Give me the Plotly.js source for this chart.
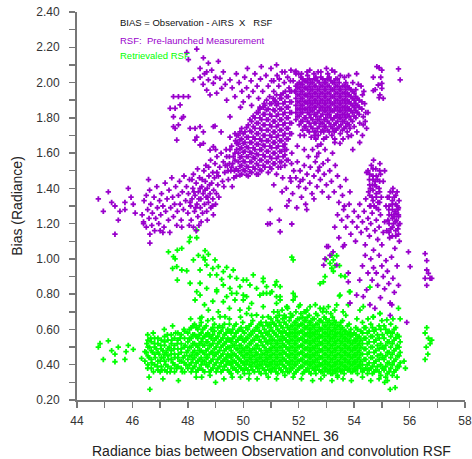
<!DOCTYPE html>
<html><head><meta charset="utf-8">
<script src="https://cdn.plot.ly/plotly-3.0.1.min.js"></script>
<style>html,body{margin:0;padding:0;background:#fff;} #chart{width:472px;height:459px;}</style>
</head><body><div id="chart"></div>
<script>
// ---- Data ----
const xTickVals = [44, 46, 48, 50, 52, 54, 56, 58];
const yTickVals = [0.2, 0.4, 0.6, 0.8, 1.0, 1.2, 1.4, 1.6, 1.8, 2.0, 2.2, 2.4];

// RSF: Pre-launched Measurement (purple) - scattered points [x, y]
const preLaunchedPts = [
 [44.77,1.34],[44.95,1.27],[45.13,1.38],[45.25,1.32],[45.37,1.30],[45.49,1.22],[45.37,1.14],[45.73,1.32],[45.73,1.28],[45.85,1.40],[46.03,1.31],[46.63,1.09],[46.10,1.26],[45.95,1.35],[45.55,1.27],
 [46.35,1.25],[46.40,1.21],[46.42,1.33],[46.50,1.36],[46.50,1.18],[46.55,1.28],[46.60,1.23],[46.62,1.39],[46.66,1.31],[46.70,1.19],[46.72,1.26],[46.78,1.35],[46.80,1.16],[46.84,1.23],[46.88,1.41],[46.90,1.29],[46.95,1.20],[46.98,1.33],[47.02,1.25],[47.05,1.37],[47.10,1.30],[47.14,1.18],[47.18,1.43],[47.20,1.27],[47.25,1.34],[47.30,1.22],[47.32,1.39],[47.38,1.29],[47.42,1.46],[47.45,1.35],[47.48,1.24],[47.52,1.31],[47.56,1.41],[47.60,1.19],[47.62,1.27],[47.66,1.36],[47.70,1.44],[47.72,1.31],[47.76,1.22],[47.80,1.38],[47.84,1.28],[47.86,1.47],[47.00,1.16],[46.58,1.45],[47.35,1.15],
 [46.40,1.20],[46.63,1.14],[47.10,1.15],[47.78,1.18],[48.30,1.16],
 [47.92,1.33],[47.95,1.41],[48.00,1.26],[48.02,1.37],[48.06,1.45],[48.10,1.30],[48.12,1.22],[48.15,1.34],[48.18,1.40],[48.20,1.48],[48.24,1.27],[48.26,1.36],[48.30,1.43],[48.33,1.31],[48.36,1.24],[48.38,1.38],[48.42,1.46],[48.45,1.29],[48.47,1.34],[48.50,1.41],[48.53,1.26],[48.55,1.37],[48.58,1.50],[48.60,1.31],[48.63,1.44],[48.66,1.35],[48.68,1.27],[48.70,1.40],[48.74,1.32],[48.76,1.47],[48.80,1.37],[48.83,1.29],[48.86,1.43],[48.90,1.34],[48.93,1.39],[48.96,1.46],[49.00,1.31],[49.03,1.37],[49.08,1.42],[49.12,1.35],[48.40,1.19],[48.70,1.22],[48.20,1.18],[48.92,1.25],[48.05,1.19],[48.35,1.51],[48.65,1.53],[49.05,1.49],[48.15,1.45],[48.48,1.21],
 [48.08,1.32],[48.22,1.38],[48.40,1.34],[48.52,1.45],[48.62,1.39],[48.78,1.42],[48.88,1.30],[48.28,1.29],[48.44,1.40],[48.72,1.35],
 [48.75,1.52],[48.82,1.56],[48.90,1.49],[48.98,1.54],[49.05,1.58],[49.10,1.47],[49.15,1.52],[49.20,1.60],[49.25,1.44],[49.28,1.55],[49.33,1.49],[49.38,1.62],[49.42,1.53],[49.46,1.45],[49.50,1.58],[49.55,1.50],[49.58,1.64],[49.62,1.54],[49.66,1.46],[49.70,1.60],[49.74,1.51],[49.78,1.66],[49.30,1.41],[49.60,1.41],[49.00,1.62],
 [49.70,1.56],[49.76,1.62],[49.64,1.58],[49.72,1.67],[49.58,1.52],[49.68,1.50],[49.50,1.54],[49.45,1.50],[49.40,1.58],[49.75,1.47],[49.52,1.62],[49.35,1.53],
 [48.56,2.14],[48.02,2.13],[47.96,2.17],[48.32,2.19],[48.74,2.11],[49.10,2.12],[48.44,2.08],[48.68,2.06],[48.86,2.07],[48.20,2.015],[48.44,2.03],[48.74,2.015],[48.92,1.996],[49.16,2.024],[49.22,1.967],[49.04,1.94],[49.40,1.90],[49.52,1.806],[48.68,1.957],[49.28,2.06],[49.52,2.015],[48.55,1.99],[48.80,1.93],[49.35,1.99],[48.60,2.05],[49.00,2.03],
 [47.48,1.92],[47.66,1.92],[47.36,1.854],[47.48,1.806],[47.72,1.873],[47.78,1.797],[47.54,1.74],[47.48,1.75],[48.08,1.74],[48.26,1.74],[48.44,1.75],[48.56,1.72],[48.92,1.75],[48.32,1.69],[48.56,1.655],[49.52,1.69],[49.70,1.71],[49.76,1.655],[48.26,1.674],[48.92,1.636],[47.54,1.854],[47.84,1.806],[47.66,1.76],[47.60,1.674],[48.98,1.753],[48.44,1.646],[48.80,1.617],[49.76,1.70],[47.84,1.92],[48.02,1.92],[49.20,1.72],
 [49.85,2.00],[49.95,1.95],[50.05,2.03],[50.12,1.97],[50.20,1.92],[50.28,2.01],[50.35,1.95],[50.42,2.05],[50.50,1.98],[50.55,1.91],[50.62,2.02],[50.70,1.95],[50.75,1.88],[50.82,2.04],[50.90,1.98],[50.95,1.92],[51.02,2.01],[51.10,1.95],[51.15,1.89],[51.22,2.04],[51.28,1.98],[51.35,1.93],[51.40,2.06],[51.48,2.00],[51.52,1.95],[51.60,2.03],[51.65,1.97],[51.72,2.07],[51.80,2.01],[51.85,1.95],[51.90,2.05],[51.95,1.99],[50.30,1.87],[50.60,1.85],[50.00,1.89],[49.90,1.86],[50.15,2.08],[50.65,2.09],[51.00,2.08],[49.75,2.05],[49.60,1.97],[49.70,1.92],[51.20,2.10],[51.50,2.06],[51.87,2.06],[51.10,2.01],[51.30,2.02],[51.70,2.01],
 [54.40,1.78],[54.50,1.83],[54.35,1.95],[54.45,1.74],[53.90,1.70],[54.10,1.72],[53.60,1.68],[52.90,1.68],[53.30,1.66],[52.00,2.05],[52.70,2.06],[53.30,2.06],[53.80,2.04],[51.90,2.065],[54.09,2.05],[54.30,1.70],[54.20,1.66],[53.95,1.62],[54.33,1.806],[53.79,1.693],[53.49,1.655],[53.85,1.74],[52.40,2.07],[53.00,2.08],
 [52.10,2.05],[52.30,2.06],[52.55,2.05],[52.80,2.06],[53.05,2.05],[53.20,2.07],[53.50,2.04],[53.65,2.03],[53.95,2.00],[54.15,1.99],[54.30,1.93],[54.38,1.88],[54.42,1.83],[54.33,1.76],[54.25,1.98],
 [52.20,1.70],[52.45,1.69],[52.70,1.70],[53.00,1.69],[53.20,1.70],[53.50,1.71],[53.75,1.72],[54.00,1.75],[54.20,1.77],
 [51.35,1.52],[51.42,1.46],[51.55,1.40],[51.72,1.44],[51.78,1.37],[51.82,1.50],[51.90,1.46],[51.95,1.55],[52.00,1.41],[52.05,1.50],[52.10,1.35],[52.15,1.45],[52.20,1.53],[52.25,1.40],[52.30,1.48],[52.35,1.58],[52.40,1.43],[52.42,1.52],[52.48,1.37],[52.50,1.62],[52.55,1.47],[52.60,1.55],[52.62,1.68],[52.66,1.41],[52.70,1.50],[52.72,1.60],[52.78,1.45],[52.80,1.65],[52.85,1.38],[52.88,1.54],[52.92,1.48],[52.95,1.62],[53.00,1.42],[53.05,1.56],[53.08,1.35],[53.12,1.50],[53.18,1.44],[53.22,1.60],[53.28,1.38],[53.32,1.53],[53.40,1.47],[53.45,1.32],[53.50,1.41],[53.58,1.36],[53.65,1.30],[52.20,1.62],[51.95,1.64],[51.75,1.60],[51.50,1.62],[52.05,1.70],[52.55,1.34],[52.25,1.31],[53.70,1.45],[53.85,1.38],[53.30,1.68],[52.90,1.72],[51.20,1.48],[51.10,1.42],[51.40,1.38],[51.65,1.33],[50.97,1.28],[51.57,1.30],[51.93,1.29],[52.29,1.28],[51.69,1.46],[52.05,1.44],[52.65,1.58],[52.75,1.52],[52.68,1.64],[52.58,1.70],
 [50.97,1.20],[50.88,1.198],[51.33,1.154],[51.75,1.198],[51.30,1.22],[53.01,1.07],
 [54.50,1.50],[54.55,1.45],[54.58,1.40],[54.62,1.53],[54.65,1.35],[54.68,1.47],[54.72,1.30],[54.74,1.42],[54.78,1.51],[54.80,1.37],[54.84,1.45],[54.86,1.32],[54.90,1.40],[54.93,1.54],[54.95,1.48],[54.98,1.35],[54.60,1.30],[54.70,1.56],[54.88,1.28],[54.52,1.38],[55.05,1.44],[55.10,1.50],[54.45,1.49],[54.42,1.34],[54.76,1.44],[54.66,1.42],
 [55.15,1.30],[55.20,1.35],[55.22,1.22],[55.25,1.28],[55.30,1.38],[55.32,1.17],[55.35,1.25],[55.38,1.31],[55.42,1.20],[55.45,1.35],[55.48,1.27],[55.50,1.13],[55.52,1.22],[55.55,1.30],[55.58,1.17],[55.60,1.25],[55.62,1.33],[55.65,1.20],[55.40,1.40],[55.28,1.12],[55.55,1.38],[55.18,1.16],[55.63,1.10],[55.47,1.06],[55.44,1.24],[55.58,1.28],
 [53.55,1.22],[53.62,1.28],[53.70,1.18],[53.76,1.24],[53.82,1.31],[53.88,1.14],[53.94,1.21],[54.00,1.27],[54.05,1.10],[54.10,1.18],[54.15,1.24],[54.20,1.31],[54.25,1.15],[54.30,1.21],[54.36,1.27],[54.40,1.08],[54.45,1.17],[54.50,1.23],[54.55,1.13],[54.60,1.20],[54.65,1.26],[54.70,1.05],[54.75,1.16],[54.80,1.22],[54.85,1.11],[54.90,1.18],[54.95,1.25],[55.00,1.08],[55.05,1.15],[55.10,1.21],[53.40,1.25],[53.30,1.18],[53.45,1.12],[53.65,1.08],[53.24,1.04],[53.07,1.07],[53.13,1.02],[52.95,1.00],[53.60,1.07],[53.37,0.965],[52.90,0.965],
 [54.57,0.74],[54.09,0.795],[54.33,0.786],[54.45,0.824],[55.30,0.68],[55.90,0.64],[53.79,0.92],[53.79,0.87],[53.85,0.75],[54.60,1.00],[54.70,0.95],[54.65,0.88],[54.80,0.92],[54.85,0.85],[54.90,1.02],[54.95,0.78],[55.00,0.96],[55.05,0.90],[55.10,0.83],[55.15,0.99],[55.20,0.93],[55.25,0.86],[55.30,0.75],[55.35,1.01],[55.36,0.74],[55.40,0.89],[55.45,0.81],[54.30,0.96],[54.20,0.88],[54.40,1.02],[54.50,0.92],[55.55,0.96],[55.60,0.85],[55.96,1.04],[56.02,0.956],[54.75,0.72],
 [56.56,1.03],[56.62,0.99],[56.62,0.937],[56.68,0.918],[56.56,0.89],[56.80,0.89],[56.62,0.85],[56.74,0.89],
 [55.66,2.015],[55.60,2.077],[54.90,2.084],[54.69,2.03],[54.96,2.03],[54.87,1.986],[55.00,1.967],[54.90,1.914],[55.05,1.91],[54.69,1.954],[54.93,1.93],[54.82,2.09],[55.00,2.07],[54.76,1.96],[55.00,1.995]
];

// RSF: Pre-launched Measurement (purple) - dense strips [x, [y values]]
const preLaunchedStrips = [
 [49.82,[1.50,1.55,1.60,1.65,1.70]],
 [49.94,[1.48,1.53,1.58,1.63,1.68,1.74]],
 [50.06,[1.50,1.55,1.61,1.66,1.72]],
 [50.18,[1.47,1.52,1.58,1.63,1.69,1.76]],
 [50.30,[1.49,1.55,1.60,1.66,1.72,1.78]],
 [50.42,[1.51,1.57,1.62,1.68,1.74,1.80]],
 [50.54,[1.48,1.53,1.59,1.65,1.71,1.77,1.83]],
 [50.66,[1.50,1.56,1.62,1.67,1.73,1.79]],
 [50.78,[1.52,1.58,1.64,1.70,1.76,1.82,1.87]],
 [50.90,[1.49,1.55,1.61,1.67,1.73,1.79,1.85]],
 [51.02,[1.51,1.57,1.63,1.69,1.75,1.81,1.88]],
 [51.14,[1.54,1.60,1.66,1.72,1.78,1.84,1.90]],
 [51.26,[1.52,1.58,1.64,1.70,1.76,1.82,1.88]],
 [51.38,[1.55,1.61,1.67,1.73,1.79,1.85,1.91]],
 [51.50,[1.53,1.59,1.65,1.71,1.77,1.83,1.89]],
 [51.62,[1.56,1.68,1.74,1.80,1.86,1.92]],
 [51.74,[1.54,1.71,1.77,1.83,1.89,1.95]],
 [51.90,[1.79,1.83,1.87,1.91,1.95,1.98]],
 [52.02,[1.76,1.81,1.85,1.89,1.93,1.97,2.00]],
 [52.14,[1.73,1.78,1.83,1.87,1.91,1.95,1.99,2.02]],
 [52.26,[1.75,1.80,1.85,1.89,1.93,1.97,2.01]],
 [52.38,[1.72,1.77,1.82,1.86,1.90,1.94,1.98,2.02]],
 [52.50,[1.74,1.79,1.84,1.88,1.92,1.96,2.00]],
 [52.62,[1.72,1.77,1.81,1.86,1.90,1.94,1.98,2.03]],
 [52.74,[1.75,1.79,1.84,1.88,1.92,1.96,2.00]],
 [52.86,[1.73,1.77,1.82,1.86,1.90,1.94,1.98,2.02]],
 [52.98,[1.75,1.80,1.84,1.88,1.92,1.96,2.00]],
 [53.10,[1.72,1.77,1.82,1.86,1.90,1.94,1.98,2.03]],
 [53.22,[1.74,1.79,1.84,1.88,1.92,1.96,2.00]],
 [53.34,[1.73,1.77,1.81,1.86,1.90,1.94,1.98,2.02]],
 [53.46,[1.75,1.80,1.84,1.88,1.92,1.96,2.00]],
 [53.58,[1.73,1.78,1.82,1.86,1.90,1.94,1.98]],
 [53.70,[1.75,1.80,1.84,1.88,1.92,1.96,2.00]],
 [53.82,[1.76,1.81,1.85,1.89,1.93,1.97]],
 [53.94,[1.78,1.83,1.87,1.91,1.95]],
 [54.06,[1.80,1.84,1.88,1.92,1.96]],
 [54.18,[1.82,1.86,1.90]],
 [54.28,[1.85,1.89]]
];

// second pass of purple strips read between the first ones (band, core, right columns)
const preLaunchedFill = [
 [49.88,[1.475,1.525,1.575,1.625,1.675,1.72]],
 [50.00,[1.505,1.555,1.605,1.655,1.71]],
 [50.12,[1.475,1.525,1.58,1.635,1.69,1.745]],
 [50.24,[1.495,1.55,1.605,1.66,1.725,1.79]],
 [50.36,[1.52,1.575,1.63,1.69,1.75,1.81]],
 [50.48,[1.48,1.54,1.595,1.65,1.71,1.77,1.83]],
 [50.60,[1.505,1.56,1.62,1.68,1.74,1.80,1.86]],
 [50.72,[1.53,1.59,1.645,1.70,1.76,1.82,1.86]],
 [50.84,[1.55,1.61,1.67,1.73,1.79,1.845,1.90]],
 [50.96,[1.52,1.58,1.64,1.70,1.76,1.82,1.88]],
 [51.08,[1.54,1.60,1.66,1.72,1.78,1.845,1.91]],
 [51.20,[1.57,1.63,1.69,1.75,1.81,1.87,1.93]],
 [51.32,[1.55,1.61,1.67,1.73,1.79,1.85,1.91]],
 [51.44,[1.58,1.64,1.70,1.76,1.82,1.88,1.94]],
 [51.56,[1.56,1.62,1.68,1.74,1.80,1.86,1.92]],
 [51.68,[1.71,1.77,1.83,1.89,1.95]],
 [51.96,[1.81,1.85,1.89,1.93,1.97]],
 [52.08,[1.78,1.83,1.87,1.91,1.95,1.99,2.03]],
 [52.20,[1.75,1.80,1.85,1.89,1.93,1.97,2.01]],
 [52.32,[1.73,1.78,1.83,1.88,1.92,1.96,2.00,2.04]],
 [52.44,[1.75,1.80,1.84,1.88,1.92,1.96,2.00]],
 [52.56,[1.72,1.77,1.82,1.86,1.90,1.94,1.98,2.02]],
 [52.68,[1.74,1.79,1.83,1.88,1.92,1.96,2.01]],
 [52.80,[1.72,1.77,1.81,1.86,1.90,1.94,1.98,2.03]],
 [52.92,[1.75,1.79,1.84,1.88,1.92,1.96,2.00]],
 [53.04,[1.73,1.78,1.82,1.86,1.90,1.94,1.98,2.02]],
 [53.16,[1.75,1.80,1.84,1.88,1.92,1.96,2.01]],
 [53.28,[1.72,1.76,1.80,1.84,1.88,1.92,1.96,2.00]],
 [53.40,[1.74,1.78,1.82,1.86,1.90,1.94,1.98,2.02]],
 [53.52,[1.76,1.80,1.84,1.88,1.92,1.96]],
 [53.64,[1.74,1.78,1.82,1.86,1.90,1.94,1.98]],
 [53.76,[1.77,1.82,1.86,1.90,1.94,1.98]],
 [53.88,[1.79,1.84,1.88,1.92,1.96]],
 [54.00,[1.81,1.86,1.90,1.94]],
 [54.12,[1.83,1.87,1.91]],
 [54.56,[1.30,1.36,1.42,1.48]],
 [54.68,[1.33,1.39,1.45,1.51]],
 [54.80,[1.29,1.35,1.41,1.47]],
 [54.92,[1.32,1.38,1.44,1.50]],
 [55.26,[1.15,1.20,1.25,1.30,1.35]],
 [55.38,[1.13,1.18,1.23,1.28,1.33,1.38]],
 [55.50,[1.16,1.21,1.26,1.31,1.36]],
 [55.60,[1.14,1.19,1.24,1.29]]
];

// Retrievaled RSF (green) - scattered points [x, y]
const retrievedPts = [
 [44.83,0.52],[45.13,0.535],[45.25,0.48],[44.95,0.43],[45.37,0.46],[45.37,0.417],[45.49,0.50],[45.73,0.43],[45.77,0.474],[45.85,0.51],[46.03,0.487],[46.33,0.436],[46.45,0.474],[44.77,0.50],
 [46.45,0.42],[46.50,0.47],[46.52,0.52],[46.55,0.38],[46.60,0.44],[46.62,0.50],[46.66,0.55],[46.70,0.41],[46.72,0.47],[46.76,0.36],[46.80,0.52],[46.82,0.44],[46.86,0.49],[46.90,0.39],[46.92,0.55],[46.96,0.46],[47.00,0.42],[47.02,0.51],[47.06,0.37],[47.10,0.48],[47.12,0.44],[47.16,0.53],[47.20,0.40],[47.22,0.47],[47.26,0.57],[47.30,0.43],[47.33,0.50],[47.36,0.36],[47.40,0.46],[47.42,0.54],[47.46,0.41],[47.50,0.49],[47.53,0.44],[47.56,0.58],[47.60,0.38],[47.62,0.52],[47.66,0.46],[47.70,0.42],[47.72,0.55],[47.76,0.49],[47.80,0.36],[47.83,0.44],[47.86,0.60],[47.90,0.51],[47.93,0.40],[47.96,0.47],[46.60,0.33],[46.63,0.26],[47.10,0.32],[47.66,0.31],[47.00,0.36],[47.25,0.36],[46.55,0.57],[46.75,0.58],[47.45,0.62],[47.15,0.60],
 [48.32,1.164],[48.08,1.122],[48.32,1.12],[48.05,1.098],[47.30,1.04],[47.62,1.05],[47.78,1.06],[47.48,1.013],[47.54,1.00],[48.20,0.994],[48.38,1.02],[48.62,1.047],[48.74,1.026],[48.56,1.009],[47.60,0.956],[47.45,0.946],[47.78,0.937],[47.96,0.933],[48.62,0.994],[48.98,0.994],[48.44,0.937],[48.68,0.965],[48.90,0.946],[49.10,0.956],[49.28,0.928],[49.40,0.952],[49.04,0.909],[49.22,0.884],[48.80,0.909],[49.52,0.90],[49.76,0.89],[50.12,0.88],[50.36,0.909],[50.72,0.89],[49.28,0.852],[49.52,0.833],[49.88,0.843],[50.24,0.852],[50.48,0.833],[50.84,0.843],[51.15,0.852],[48.44,0.862],[48.08,0.862],[47.62,0.88],[48.68,0.833],[49.04,0.824],[49.76,0.805],[50.12,0.786],[50.60,0.795],[51.03,0.814],[51.20,0.786],[48.32,0.814],[49.40,0.786],
 [48.26,0.767],[48.44,0.795],[48.74,0.71],[49.10,0.70],[49.16,0.672],[49.34,0.672],[48.44,0.663],[49.70,0.767],[49.88,0.71],[50.12,0.69],[50.30,0.748],[50.48,0.682],[50.72,0.729],[50.90,0.672],[49.04,0.814],[49.28,0.757],[49.58,0.805],[50.00,0.795],[50.84,0.805],[48.60,0.74],[48.90,0.76],[49.50,0.72],[50.20,0.72],
 [50.97,0.805],[51.33,0.786],[51.20,0.748],[51.80,0.805],[51.87,0.786],[52.05,0.739],[51.57,0.729],[53.49,0.795],[53.85,0.814],[53.37,0.739],[53.07,0.729],[52.41,0.729],[52.77,0.72],[54.21,0.71],[54.69,0.672],[54.93,0.691],[55.18,0.654],[51.40,0.71],[51.70,0.69],[52.20,0.70],[52.60,0.74],[53.00,0.70],[53.60,0.70],
 [49.64,0.937],[50.00,0.88],[50.72,0.871],[51.20,0.871],[51.33,0.843],[50.72,0.805],[50.00,0.767],[51.33,0.767],[51.80,0.767],[51.57,0.729],[51.75,1.01],[51.80,0.994],
 [53.19,1.02],[53.37,1.018],[52.99,0.997],[53.25,0.994],[53.19,0.947],[53.31,0.962],[53.47,0.962],[52.95,0.90],[53.25,0.93],[53.52,0.905],[53.67,0.90],[52.77,0.86],[53.83,0.814],[53.47,0.79],[54.57,0.84],[53.79,0.74],[54.33,0.73],[55.60,0.72],[54.93,0.69],[54.69,0.67],[55.66,0.66],[53.13,0.975],[52.89,0.87],
 [48.10,0.66],[48.50,0.67],[48.90,0.66],[49.50,0.66],[49.90,0.67],[50.30,0.68],[50.70,0.67],[51.10,0.70],[51.60,0.72],[52.00,0.73],[52.30,0.71],[52.90,0.72],[53.30,0.71],[53.70,0.68],[54.10,0.66],[54.50,0.66],[55.00,0.65],[55.40,0.66],
 [48.30,0.33],[48.80,0.34],[49.30,0.32],[49.90,0.33],[50.50,0.32],[51.20,0.32],[51.50,0.34],[52.10,0.32],[52.80,0.32],[53.20,0.31],[53.40,0.33],[54.30,0.33],[54.60,0.31],[55.10,0.30],[55.55,0.33],
 [55.30,0.26],[55.48,0.27],[55.20,0.31],[54.90,0.32],[53.90,0.31],[53.60,0.32],[52.50,0.31],[51.80,0.33],[50.90,0.33],[49.00,0.30],[48.50,0.33],[55.80,0.42],[55.85,0.38],[50.20,0.32],[49.60,0.33],
 [56.56,0.58],[56.62,0.61],[56.68,0.55],[56.60,0.50],[56.74,0.52],[56.66,0.46],[56.56,0.43],[56.80,0.54]
];

// Retrievaled RSF (green) - dense strips [x, [y values]]
const retrievedStrips = [
 [48.00,[0.38,0.43,0.48,0.53,0.58]],
 [48.12,[0.36,0.41,0.45,0.50,0.55,0.61]],
 [48.24,[0.39,0.44,0.48,0.52,0.57,0.63]],
 [48.36,[0.37,0.42,0.46,0.50,0.55,0.60]],
 [48.48,[0.40,0.44,0.48,0.53,0.58,0.64]],
 [48.60,[0.36,0.42,0.46,0.51,0.56,0.61]],
 [48.72,[0.39,0.44,0.49,0.53,0.58,0.65]],
 [48.84,[0.37,0.42,0.47,0.51,0.55,0.60]],
 [48.96,[0.40,0.45,0.49,0.54,0.59,0.63]],
 [49.08,[0.38,0.43,0.47,0.52,0.56,0.61]],
 [49.20,[0.36,0.41,0.45,0.50,0.54,0.59]],
 [49.32,[0.39,0.43,0.48,0.52,0.57,0.63]],
 [49.44,[0.37,0.42,0.46,0.50,0.55,0.60]],
 [49.56,[0.35,0.40,0.44,0.48,0.53,0.58]],
 [49.68,[0.38,0.42,0.46,0.51,0.56,0.62]],
 [49.80,[0.36,0.40,0.44,0.49,0.54,0.59]],
 [49.92,[0.38,0.42,0.47,0.51,0.56,0.61]],
 [50.04,[0.35,0.40,0.44,0.48,0.53,0.58]],
 [50.16,[0.37,0.42,0.46,0.50,0.55,0.60]],
 [50.28,[0.39,0.43,0.47,0.52,0.57,0.63]],
 [50.40,[0.36,0.41,0.45,0.49,0.54,0.59]],
 [50.52,[0.38,0.42,0.46,0.51,0.56,0.61]],
 [50.64,[0.35,0.40,0.44,0.48,0.53,0.58,0.64]],
 [50.76,[0.37,0.42,0.46,0.50,0.55,0.60]],
 [50.88,[0.39,0.43,0.47,0.52,0.57,0.62]],
 [51.00,[0.36,0.40,0.44,0.48,0.52,0.56,0.61,0.66]],
 [51.12,[0.38,0.42,0.46,0.50,0.54,0.58,0.63]],
 [51.24,[0.35,0.40,0.44,0.48,0.52,0.56,0.60,0.65,0.70]],
 [51.36,[0.37,0.42,0.46,0.50,0.54,0.58,0.62]],
 [51.48,[0.39,0.43,0.47,0.51,0.55,0.59,0.64,0.68]],
 [51.60,[0.36,0.41,0.45,0.49,0.53,0.57,0.61]],
 [51.72,[0.38,0.42,0.46,0.50,0.54,0.58,0.62,0.67]],
 [51.84,[0.35,0.40,0.44,0.48,0.52,0.56,0.60,0.64]],
 [51.96,[0.37,0.42,0.46,0.50,0.54,0.58,0.62,0.66]],
 [52.08,[0.39,0.43,0.47,0.51,0.55,0.59,0.63,0.69]],
 [52.20,[0.36,0.41,0.45,0.49,0.53,0.57,0.61,0.65]],
 [52.32,[0.38,0.42,0.46,0.50,0.54,0.58,0.62,0.67]],
 [52.44,[0.35,0.40,0.44,0.48,0.52,0.56,0.60,0.64]],
 [52.56,[0.37,0.41,0.45,0.49,0.53,0.57,0.61,0.66]],
 [52.68,[0.39,0.43,0.47,0.51,0.55,0.59,0.63,0.68]],
 [52.80,[0.36,0.40,0.44,0.48,0.52,0.56,0.60,0.65]],
 [52.92,[0.34,0.38,0.42,0.46,0.50,0.54,0.58,0.62,0.67]],
 [53.04,[0.36,0.40,0.44,0.48,0.52,0.56,0.60,0.64]],
 [53.16,[0.35,0.39,0.43,0.47,0.51,0.55,0.59,0.63,0.69]],
 [53.28,[0.37,0.41,0.45,0.49,0.53,0.57,0.61,0.65]],
 [53.40,[0.34,0.38,0.42,0.46,0.50,0.54,0.58,0.62]],
 [53.52,[0.36,0.40,0.44,0.48,0.52,0.56,0.60,0.64]],
 [53.64,[0.35,0.39,0.43,0.47,0.51,0.55,0.59]],
 [53.76,[0.37,0.41,0.45,0.49,0.53,0.57,0.62]],
 [53.88,[0.36,0.40,0.44,0.48,0.52,0.56,0.60]],
 [54.00,[0.38,0.42,0.46,0.50,0.54,0.58]],
 [54.12,[0.35,0.39,0.43,0.47,0.51,0.55,0.60]],
 [54.24,[0.38,0.42,0.46,0.50,0.54,0.59]],
 [54.36,[0.37,0.43,0.49,0.55,0.61]],
 [54.48,[0.35,0.40,0.46,0.52,0.58]],
 [54.60,[0.38,0.44,0.50,0.56,0.63]],
 [54.72,[0.36,0.41,0.47,0.53,0.59]],
 [54.84,[0.39,0.45,0.51,0.57]],
 [54.96,[0.34,0.40,0.46,0.52,0.60]],
 [55.08,[0.37,0.43,0.49,0.55,0.62]],
 [55.20,[0.35,0.41,0.47,0.53,0.58]],
 [55.32,[0.38,0.44,0.50,0.56,0.63]],
 [55.44,[0.36,0.42,0.48,0.54,0.60]],
 [55.56,[0.39,0.45,0.51,0.57]],
 [55.66,[0.41,0.47,0.53]]
];

// second pass of green strips read between the first ones (band)
const retrievedFill = [
 [46.56,[0.40,0.45,0.50,0.54]],
 [46.68,[0.38,0.43,0.48,0.53]],
 [46.80,[0.40,0.46,0.50,0.55]],
 [46.92,[0.37,0.42,0.47,0.52]],
 [47.04,[0.39,0.44,0.49,0.54]],
 [47.16,[0.37,0.42,0.46,0.51,0.56]],
 [47.28,[0.39,0.45,0.49,0.54]],
 [47.40,[0.38,0.43,0.48,0.52,0.57]],
 [47.52,[0.36,0.40,0.46,0.51,0.55]],
 [47.64,[0.39,0.44,0.49,0.54,0.58]],
 [47.76,[0.38,0.42,0.47,0.52,0.57]],
 [47.88,[0.36,0.41,0.45,0.50,0.55,0.59]],
 [48.06,[0.40,0.45,0.50,0.55,0.60]],
 [48.18,[0.38,0.43,0.47,0.52,0.57,0.62]],
 [48.30,[0.36,0.41,0.46,0.51,0.56,0.61]],
 [48.42,[0.38,0.43,0.48,0.52,0.57,0.62]],
 [48.54,[0.37,0.42,0.47,0.51,0.55,0.60]],
 [48.66,[0.40,0.44,0.48,0.53,0.57,0.62]],
 [48.78,[0.36,0.41,0.46,0.51,0.56]],
 [48.90,[0.38,0.43,0.47,0.52,0.57,0.61]],
 [49.02,[0.36,0.41,0.46,0.50,0.55]],
 [49.14,[0.39,0.44,0.48,0.53,0.58,0.62]],
 [49.26,[0.37,0.42,0.46,0.51,0.55,0.61]],
 [49.38,[0.40,0.44,0.49,0.53,0.58]],
 [49.50,[0.36,0.41,0.45,0.50,0.54,0.59,0.63]],
 [49.62,[0.38,0.42,0.46,0.51,0.55,0.60]],
 [49.74,[0.37,0.41,0.45,0.49,0.53,0.58,0.63]],
 [49.86,[0.39,0.43,0.47,0.51,0.55,0.60]],
 [49.98,[0.37,0.41,0.45,0.49,0.54,0.59,0.64]],
 [50.10,[0.38,0.42,0.46,0.50,0.55,0.61]],
 [50.22,[0.35,0.40,0.44,0.48,0.52,0.57,0.62]],
 [50.34,[0.37,0.41,0.45,0.49,0.54,0.59,0.65]],
 [50.46,[0.39,0.43,0.47,0.51,0.56,0.61]],
 [50.58,[0.36,0.40,0.44,0.49,0.54,0.59,0.63]],
 [50.70,[0.38,0.42,0.46,0.51,0.56,0.62]],
 [50.82,[0.35,0.40,0.44,0.48,0.53,0.58,0.64]],
 [50.94,[0.37,0.41,0.45,0.49,0.54,0.59,0.63]],
 [51.06,[0.38,0.42,0.46,0.50,0.54,0.59,0.64]],
 [51.18,[0.36,0.40,0.44,0.48,0.52,0.57,0.62,0.67]],
 [51.30,[0.38,0.42,0.46,0.50,0.54,0.59,0.64,0.68]],
 [51.42,[0.36,0.40,0.44,0.48,0.52,0.56,0.61,0.66]],
 [51.54,[0.38,0.42,0.46,0.50,0.54,0.58,0.63,0.67]],
 [51.66,[0.36,0.40,0.44,0.48,0.52,0.56,0.60,0.65]],
 [51.78,[0.38,0.42,0.46,0.50,0.54,0.58,0.62,0.68]],
 [51.90,[0.36,0.40,0.44,0.48,0.52,0.56,0.60,0.64,0.70]],
 [52.02,[0.38,0.42,0.46,0.50,0.54,0.58,0.62,0.66]],
 [52.14,[0.35,0.39,0.43,0.47,0.51,0.55,0.59,0.63,0.67]],
 [52.26,[0.37,0.41,0.45,0.49,0.53,0.57,0.61,0.65,0.70]],
 [52.38,[0.36,0.40,0.44,0.48,0.52,0.56,0.60,0.64,0.68]],
 [52.50,[0.38,0.42,0.46,0.50,0.54,0.58,0.62,0.66]],
 [52.62,[0.35,0.39,0.43,0.47,0.51,0.55,0.59,0.63,0.69]],
 [52.74,[0.37,0.41,0.45,0.49,0.53,0.57,0.61,0.65]],
 [52.86,[0.36,0.40,0.44,0.48,0.52,0.56,0.60,0.64,0.70]],
 [52.98,[0.38,0.42,0.46,0.50,0.54,0.58,0.62,0.66]],
 [53.10,[0.37,0.41,0.45,0.49,0.53,0.57,0.61,0.65]],
 [53.22,[0.35,0.39,0.43,0.47,0.51,0.55,0.59,0.63,0.67]],
 [53.34,[0.36,0.40,0.44,0.48,0.52,0.56,0.60,0.64]],
 [53.46,[0.38,0.42,0.46,0.50,0.54,0.58,0.62]],
 [53.58,[0.37,0.41,0.45,0.49,0.53,0.57,0.61,0.65]],
 [53.70,[0.39,0.43,0.47,0.51,0.55,0.59]],
 [53.82,[0.38,0.42,0.46,0.50,0.54,0.58,0.63]],
 [53.94,[0.36,0.40,0.44,0.48,0.52,0.57]],
 [54.06,[0.37,0.41,0.45,0.49,0.53,0.57,0.61]],
 [54.18,[0.40,0.44,0.48,0.52,0.56]],
 [54.30,[0.36,0.40,0.46,0.52,0.58,0.64]],
 [54.42,[0.38,0.43,0.49,0.55,0.61]],
 [54.54,[0.37,0.41,0.47,0.53,0.59]],
 [54.66,[0.35,0.39,0.44,0.50,0.56,0.61]],
 [54.78,[0.37,0.42,0.48,0.54,0.60]],
 [54.90,[0.36,0.43,0.49,0.55,0.62]],
 [55.02,[0.38,0.44,0.50,0.57]],
 [55.14,[0.33,0.39,0.45,0.51,0.60]],
 [55.26,[0.36,0.41,0.47,0.53,0.59]],
 [55.38,[0.34,0.40,0.46,0.52,0.58]],
 [55.50,[0.37,0.43,0.49,0.55,0.61]],
 [55.62,[0.39,0.45,0.50,0.56]]
];

const noteLines = ['BIAS = Observation - AIRS\u00A0\u00A0X\u00A0\u00A0\u00A0RSF', 'RSF:\u00A0\u00A0Pre-launched Measurement', 'Retrievaled RSF'];
const xTitle1 = 'MODIS CHANNEL 36';
const xTitle2 = 'Radiance bias between Observation and convolution RSF';
const yTitle = 'Bias (Radiance)';

// ---- build traces ----
function collect(pts, stripSets) {
  const xs = [], ys = [];
  pts.forEach(p => { xs.push(p[0]); ys.push(p[1]); });
  stripSets.forEach(strips => strips.forEach(s => s[1].forEach(v => { xs.push(s[0]); ys.push(v); })));
  return {xs, ys};
}
const purple = '#9900CC', green = '#00FF00';
const P = collect(preLaunchedPts, [preLaunchedStrips, preLaunchedFill]);
const G = collect(retrievedPts, [retrievedStrips, retrievedFill]);
const mk = c => ({symbol: 'cross', size: 4.5, color: c, line: {width: 0}});
const traces = [
  {type: 'scatter', mode: 'markers', x: G.xs, y: G.ys, marker: mk(green), name: 'Retrievaled RSF', hoverinfo: 'x+y'},
  {type: 'scatter', mode: 'markers', x: P.xs, y: P.ys, marker: mk(purple), name: 'RSF: Pre-launched Measurement', hoverinfo: 'x+y'}
];
const font = 'Liberation Sans, Arial, sans-serif';
const axisCommon = {
  showgrid: false, zeroline: false, showline: true, linecolor: '#777', linewidth: 2,
  ticks: 'outside', ticklen: 6, tickwidth: 1.5, tickcolor: '#777',
  tickfont: {family: font, size: 12, color: '#333'}, mirror: false
};
const layout = {
  width: 472, height: 459,
  margin: {l: 77, r: 7, t: 12, b: 59},
  paper_bgcolor: '#fff', plot_bgcolor: '#fff',
  showlegend: false,
  font: {family: font, color: '#222'},
  xaxis: Object.assign({}, axisCommon, {
    range: [44, 58], tickvals: xTickVals, ticktext: xTickVals.map(String),
    ticklabelstandoff: 3,
    minor: {dtick: 1, ticklen: 6, tickwidth: 1.5, tickcolor: '#777', ticks: 'outside'},
    title: {text: xTitle1, font: {family: font, size: 14, color: '#222'}, standoff: 0}
  }),
  yaxis: Object.assign({}, axisCommon, {
    range: [0.2, 2.4], tickvals: yTickVals, ticktext: yTickVals.map(v => v.toFixed(2)),
    ticklabelstandoff: 7,
    minor: {dtick: 0.1, ticklen: 6, tickwidth: 1.5, tickcolor: '#777', ticks: 'outside'},
    title: {text: yTitle, font: {family: font, size: 14, color: '#222'}, standoff: 10}
  }),
  annotations: [
    {xref: 'paper', yref: 'paper', x: 0.5, y: -0.132, xanchor: 'center', yanchor: 'middle', showarrow: false,
     text: xTitle2, font: {family: font, size: 14, color: '#222'}},
    {xref: 'x', yref: 'y', x: 45.48, y: 2.343, xanchor: 'left', yanchor: 'middle', showarrow: false,
     text: noteLines[0], font: {family: font, size: 9.5, color: '#111'}},
    {xref: 'x', yref: 'y', x: 45.48, y: 2.241, xanchor: 'left', yanchor: 'middle', showarrow: false,
     text: noteLines[1], font: {family: font, size: 9.5, color: purple}},
    {xref: 'x', yref: 'y', x: 45.48, y: 2.156, xanchor: 'left', yanchor: 'middle', showarrow: false,
     text: noteLines[2], font: {family: font, size: 9.5, color: green}}
  ]
};
Plotly.newPlot('chart', traces, layout, {displayModeBar: false, staticPlot: true});
</script>
</body></html>
